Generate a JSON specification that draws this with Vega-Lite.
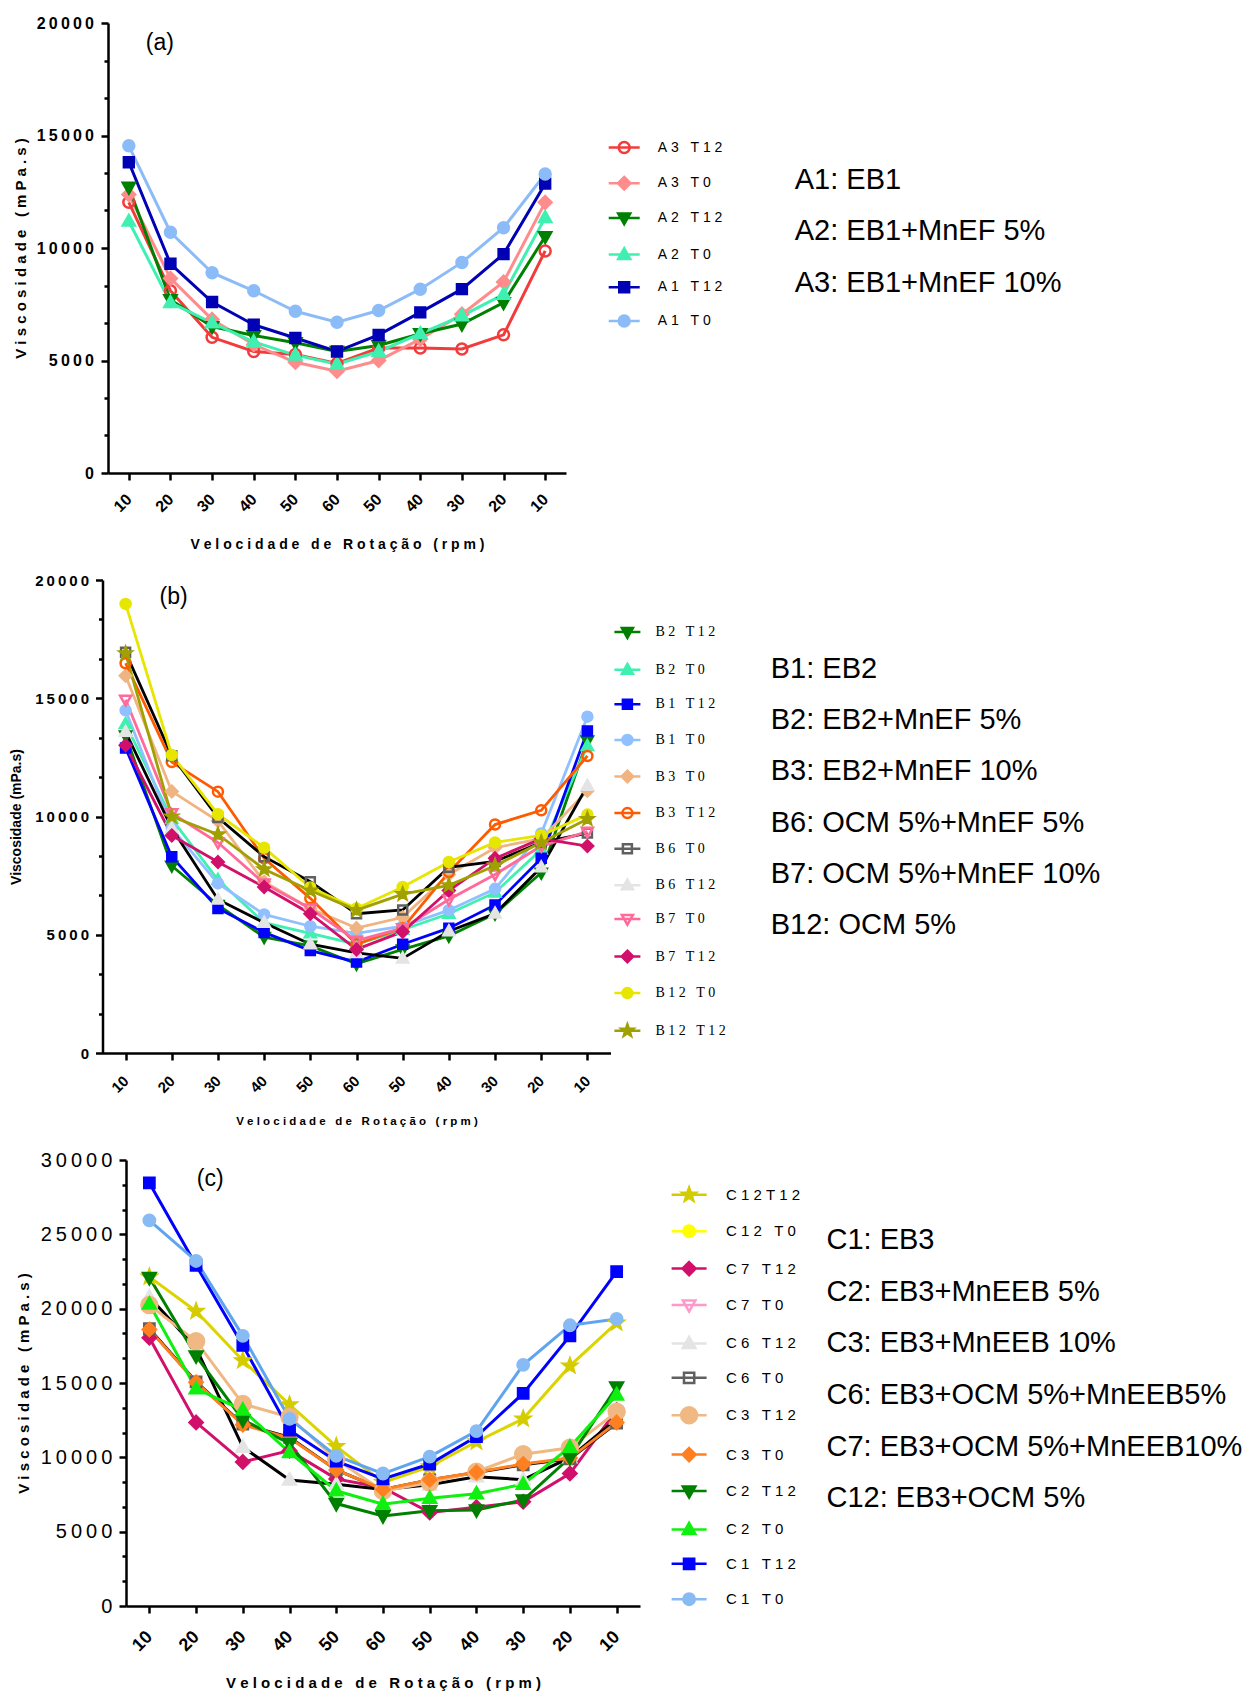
{
"$schema": "https://vega.github.io/schema/vega-lite/v6.json",
"background": "white",
"padding": {"left": 9, "top": 15, "right": 0, "bottom": 0},
"autosize": {"type": "pad"},
"config": {
  "view": {"stroke": null},
  "font": "Liberation Sans",
  "axis": {"grid": false, "domainColor": "#000", "domainWidth": 2.5, "tickColor": "#000", "tickWidth": 2.5, "labelColor": "#000", "titleColor": "#000", "labelFont": "Liberation Sans", "titleFont": "Liberation Sans", "labelOverlap": false}
},
"datasets": {
  "notesA": [{"g":"A1","note":"A1: EB1"},{"g":"A2","note":"A2: EB1+MnEF 5%"},{"g":"A3","note":"A3: EB1+MnEF 10%"}],
  "notesB": [{"g":"B1","note":"B1: EB2"},{"g":"B2","note":"B2: EB2+MnEF 5%"},{"g":"B3","note":"B3: EB2+MnEF 10%"},{"g":"B6","note":"B6: OCM 5%+MnEF 5%"},{"g":"B7","note":"B7: OCM 5%+MnEF 10%"},{"g":"B12","note":"B12: OCM 5%"}],
  "notesC": [{"g":"C1","note":"C1: EB3"},{"g":"C2","note":"C2: EB3+MnEEB 5%"},{"g":"C3","note":"C3: EB3+MnEEB 10%"},{"g":"C6","note":"C6: EB3+OCM 5%+MnEEB5%"},{"g":"C7","note":"C7: EB3+OCM 5%+MnEEB10%"},{"g":"C12","note":"C12: EB3+OCM 5%"}],
  "a": [
    {"s":"A3 T12","g":"A3","i":1,"v":12030},{"s":"A3 T12","g":"A3","i":2,"v":8100},{"s":"A3 T12","g":"A3","i":3,"v":6030},{"s":"A3 T12","g":"A3","i":4,"v":5400},{"s":"A3 T12","g":"A3","i":5,"v":5270},{"s":"A3 T12","g":"A3","i":6,"v":4870},{"s":"A3 T12","g":"A3","i":7,"v":5555},{"s":"A3 T12","g":"A3","i":8,"v":5560},{"s":"A3 T12","g":"A3","i":9,"v":5510},{"s":"A3 T12","g":"A3","i":10,"v":6140},{"s":"A3 T12","g":"A3","i":11,"v":9870},
    {"s":"A3 T0","g":"A3","i":1,"v":12380},{"s":"A3 T0","g":"A3","i":2,"v":8650},{"s":"A3 T0","g":"A3","i":3,"v":6825},{"s":"A3 T0","g":"A3","i":4,"v":5710},{"s":"A3 T0","g":"A3","i":5,"v":4920},{"s":"A3 T0","g":"A3","i":6,"v":4520},{"s":"A3 T0","g":"A3","i":7,"v":5000},{"s":"A3 T0","g":"A3","i":8,"v":5950},{"s":"A3 T0","g":"A3","i":9,"v":7060},{"s":"A3 T0","g":"A3","i":10,"v":8490},{"s":"A3 T0","g":"A3","i":11,"v":12030},
    {"s":"A2 T12","g":"A2","i":1,"v":12700},{"s":"A2 T12","g":"A2","i":2,"v":7700},{"s":"A2 T12","g":"A2","i":3,"v":6510},{"s":"A2 T12","g":"A2","i":4,"v":6110},{"s":"A2 T12","g":"A2","i":5,"v":5790},{"s":"A2 T12","g":"A2","i":6,"v":5400},{"s":"A2 T12","g":"A2","i":7,"v":5670},{"s":"A2 T12","g":"A2","i":8,"v":6190},{"s":"A2 T12","g":"A2","i":9,"v":6620},{"s":"A2 T12","g":"A2","i":10,"v":7570},{"s":"A2 T12","g":"A2","i":11,"v":10510},
    {"s":"A2 T0","g":"A2","i":1,"v":11190},{"s":"A2 T0","g":"A2","i":2,"v":7570},{"s":"A2 T0","g":"A2","i":3,"v":6670},{"s":"A2 T0","g":"A2","i":4,"v":5830},{"s":"A2 T0","g":"A2","i":5,"v":5240},{"s":"A2 T0","g":"A2","i":6,"v":4840},{"s":"A2 T0","g":"A2","i":7,"v":5400},{"s":"A2 T0","g":"A2","i":8,"v":6190},{"s":"A2 T0","g":"A2","i":9,"v":6980},{"s":"A2 T0","g":"A2","i":10,"v":7940},{"s":"A2 T0","g":"A2","i":11,"v":11350},
    {"s":"A1 T12","g":"A1","i":1,"v":13810},{"s":"A1 T12","g":"A1","i":2,"v":9300},{"s":"A1 T12","g":"A1","i":3,"v":7600},{"s":"A1 T12","g":"A1","i":4,"v":6590},{"s":"A1 T12","g":"A1","i":5,"v":6000},{"s":"A1 T12","g":"A1","i":6,"v":5400},{"s":"A1 T12","g":"A1","i":7,"v":6140},{"s":"A1 T12","g":"A1","i":8,"v":7140},{"s":"A1 T12","g":"A1","i":9,"v":8170},{"s":"A1 T12","g":"A1","i":10,"v":9730},{"s":"A1 T12","g":"A1","i":11,"v":12860},
    {"s":"A1 T0","g":"A1","i":1,"v":14540},{"s":"A1 T0","g":"A1","i":2,"v":10700},{"s":"A1 T0","g":"A1","i":3,"v":8900},{"s":"A1 T0","g":"A1","i":4,"v":8100},{"s":"A1 T0","g":"A1","i":5,"v":7190},{"s":"A1 T0","g":"A1","i":6,"v":6700},{"s":"A1 T0","g":"A1","i":7,"v":7220},{"s":"A1 T0","g":"A1","i":8,"v":8170},{"s":"A1 T0","g":"A1","i":9,"v":9360},{"s":"A1 T0","g":"A1","i":10,"v":10900},{"s":"A1 T0","g":"A1","i":11,"v":13290}
  ],
  "b": [
    {"s":"B2 T12","g":"B2","i":1,"v":13430},{"s":"B2 T12","g":"B2","i":2,"v":7920},{"s":"B2 T12","g":"B2","i":3,"v":6260},{"s":"B2 T12","g":"B2","i":4,"v":4900},{"s":"B2 T12","g":"B2","i":5,"v":4530},{"s":"B2 T12","g":"B2","i":6,"v":3770},{"s":"B2 T12","g":"B2","i":7,"v":4380},{"s":"B2 T12","g":"B2","i":8,"v":4950},{"s":"B2 T12","g":"B2","i":9,"v":5890},{"s":"B2 T12","g":"B2","i":10,"v":7620},{"s":"B2 T12","g":"B2","i":11,"v":13210},
    {"s":"B2 T0","g":"B2","i":1,"v":13920},{"s":"B2 T0","g":"B2","i":2,"v":9890},{"s":"B2 T0","g":"B2","i":3,"v":7320},{"s":"B2 T0","g":"B2","i":4,"v":5510},{"s":"B2 T0","g":"B2","i":5,"v":5060},{"s":"B2 T0","g":"B2","i":6,"v":4600},{"s":"B2 T0","g":"B2","i":7,"v":5210},{"s":"B2 T0","g":"B2","i":8,"v":5890},{"s":"B2 T0","g":"B2","i":9,"v":6790},{"s":"B2 T0","g":"B2","i":10,"v":8600},{"s":"B2 T0","g":"B2","i":11,"v":12980},
    {"s":"B1 T12","g":"B1","i":1,"v":12900},{"s":"B1 T12","g":"B1","i":2,"v":8300},{"s":"B1 T12","g":"B1","i":3,"v":6110},{"s":"B1 T12","g":"B1","i":4,"v":5100},{"s":"B1 T12","g":"B1","i":5,"v":4330},{"s":"B1 T12","g":"B1","i":6,"v":3850},{"s":"B1 T12","g":"B1","i":7,"v":4600},{"s":"B1 T12","g":"B1","i":8,"v":5280},{"s":"B1 T12","g":"B1","i":9,"v":6260},{"s":"B1 T12","g":"B1","i":10,"v":8230},{"s":"B1 T12","g":"B1","i":11,"v":13620},
    {"s":"B1 T0","g":"B1","i":1,"v":14490},{"s":"B1 T0","g":"B1","i":2,"v":9510},{"s":"B1 T0","g":"B1","i":3,"v":7170},{"s":"B1 T0","g":"B1","i":4,"v":5860},{"s":"B1 T0","g":"B1","i":5,"v":5360},{"s":"B1 T0","g":"B1","i":6,"v":5060},{"s":"B1 T0","g":"B1","i":7,"v":5360},{"s":"B1 T0","g":"B1","i":8,"v":6040},{"s":"B1 T0","g":"B1","i":9,"v":6940},{"s":"B1 T0","g":"B1","i":10,"v":9280},{"s":"B1 T0","g":"B1","i":11,"v":14220},
    {"s":"B3 T0","g":"B3","i":1,"v":15950},{"s":"B3 T0","g":"B3","i":2,"v":11060},{"s":"B3 T0","g":"B3","i":3,"v":9810},{"s":"B3 T0","g":"B3","i":4,"v":7245},{"s":"B3 T0","g":"B3","i":5,"v":6110},{"s":"B3 T0","g":"B3","i":6,"v":5280},{"s":"B3 T0","g":"B3","i":7,"v":5740},{"s":"B3 T0","g":"B3","i":8,"v":7550},{"s":"B3 T0","g":"B3","i":9,"v":8680},{"s":"B3 T0","g":"B3","i":10,"v":9060},{"s":"B3 T0","g":"B3","i":11,"v":11090},
    {"s":"B3 T12","g":"B3","i":1,"v":16480},{"s":"B3 T12","g":"B3","i":2,"v":12300},{"s":"B3 T12","g":"B3","i":3,"v":11050},{"s":"B3 T12","g":"B3","i":4,"v":8230},{"s":"B3 T12","g":"B3","i":5,"v":6540},{"s":"B3 T12","g":"B3","i":6,"v":4600},{"s":"B3 T12","g":"B3","i":7,"v":5280},{"s":"B3 T12","g":"B3","i":8,"v":7650},{"s":"B3 T12","g":"B3","i":9,"v":9660},{"s":"B3 T12","g":"B3","i":10,"v":10260},{"s":"B3 T12","g":"B3","i":11,"v":12560},
    {"s":"B6 T0","g":"B6","i":1,"v":16940},{"s":"B6 T0","g":"B6","i":2,"v":12570},{"s":"B6 T0","g":"B6","i":3,"v":9960},{"s":"B6 T0","g":"B6","i":4,"v":8300},{"s":"B6 T0","g":"B6","i":5,"v":7245},{"s":"B6 T0","g":"B6","i":6,"v":5890},{"s":"B6 T0","g":"B6","i":7,"v":6050},{"s":"B6 T0","g":"B6","i":8,"v":7850},{"s":"B6 T0","g":"B6","i":9,"v":8100},{"s":"B6 T0","g":"B6","i":10,"v":8900},{"s":"B6 T0","g":"B6","i":11,"v":9300},
    {"s":"B6 T12","g":"B6","i":1,"v":13580},{"s":"B6 T12","g":"B6","i":2,"v":9500},{"s":"B6 T12","g":"B6","i":3,"v":6490},{"s":"B6 T12","g":"B6","i":4,"v":5510},{"s":"B6 T12","g":"B6","i":5,"v":4600},{"s":"B6 T12","g":"B6","i":6,"v":4230},{"s":"B6 T12","g":"B6","i":7,"v":4000},{"s":"B6 T12","g":"B6","i":8,"v":5150},{"s":"B6 T12","g":"B6","i":9,"v":5900},{"s":"B6 T12","g":"B6","i":10,"v":7850},{"s":"B6 T12","g":"B6","i":11,"v":11300},
    {"s":"B7 T0","g":"B7","i":1,"v":14940},{"s":"B7 T0","g":"B7","i":2,"v":10140},{"s":"B7 T0","g":"B7","i":3,"v":8900},{"s":"B7 T0","g":"B7","i":4,"v":7170},{"s":"B7 T0","g":"B7","i":5,"v":6110},{"s":"B7 T0","g":"B7","i":6,"v":4750},{"s":"B7 T0","g":"B7","i":7,"v":5280},{"s":"B7 T0","g":"B7","i":8,"v":6490},{"s":"B7 T0","g":"B7","i":9,"v":7550},{"s":"B7 T0","g":"B7","i":10,"v":8750},{"s":"B7 T0","g":"B7","i":11,"v":9360},
    {"s":"B7 T12","g":"B7","i":1,"v":13010},{"s":"B7 T12","g":"B7","i":2,"v":9200},{"s":"B7 T12","g":"B7","i":3,"v":8075},{"s":"B7 T12","g":"B7","i":4,"v":7020},{"s":"B7 T12","g":"B7","i":5,"v":5890},{"s":"B7 T12","g":"B7","i":6,"v":4380},{"s":"B7 T12","g":"B7","i":7,"v":5130},{"s":"B7 T12","g":"B7","i":8,"v":6870},{"s":"B7 T12","g":"B7","i":9,"v":8230},{"s":"B7 T12","g":"B7","i":10,"v":9060},{"s":"B7 T12","g":"B7","i":11,"v":8750},
    {"s":"B12 T0","g":"B12","i":1,"v":18990},{"s":"B12 T0","g":"B12","i":2,"v":12600},{"s":"B12 T0","g":"B12","i":3,"v":10100},{"s":"B12 T0","g":"B12","i":4,"v":8680},{"s":"B12 T0","g":"B12","i":5,"v":7000},{"s":"B12 T0","g":"B12","i":6,"v":6110},{"s":"B12 T0","g":"B12","i":7,"v":7020},{"s":"B12 T0","g":"B12","i":8,"v":8075},{"s":"B12 T0","g":"B12","i":9,"v":8905},{"s":"B12 T0","g":"B12","i":10,"v":9200},{"s":"B12 T0","g":"B12","i":11,"v":10080},
    {"s":"B12 T12","g":"B12","i":1,"v":16900},{"s":"B12 T12","g":"B12","i":2,"v":10000},{"s":"B12 T12","g":"B12","i":3,"v":9240},{"s":"B12 T12","g":"B12","i":4,"v":7770},{"s":"B12 T12","g":"B12","i":5,"v":6870},{"s":"B12 T12","g":"B12","i":6,"v":6040},{"s":"B12 T12","g":"B12","i":7,"v":6720},{"s":"B12 T12","g":"B12","i":8,"v":7090},{"s":"B12 T12","g":"B12","i":9,"v":7920},{"s":"B12 T12","g":"B12","i":10,"v":8900},{"s":"B12 T12","g":"B12","i":11,"v":9890}
  ],
  "c": [
    {"s":"C12T12","g":"C12","i":1,"v":22140},{"s":"C12T12","g":"C12","i":2,"v":19830},{"s":"C12T12","g":"C12","i":3,"v":16510},{"s":"C12T12","g":"C12","i":4,"v":13540},{"s":"C12T12","g":"C12","i":5,"v":10740},{"s":"C12T12","g":"C12","i":6,"v":8310},{"s":"C12T12","g":"C12","i":7,"v":9380},{"s":"C12T12","g":"C12","i":8,"v":11050},{"s":"C12T12","g":"C12","i":9,"v":12590},{"s":"C12T12","g":"C12","i":10,"v":16150},{"s":"C12T12","g":"C12","i":11,"v":19050},
    {"s":"C7 T12","g":"C7","i":1,"v":18050},{"s":"C7 T12","g":"C7","i":2,"v":12350},{"s":"C7 T12","g":"C7","i":3,"v":9690},{"s":"C7 T12","g":"C7","i":4,"v":10450},{"s":"C7 T12","g":"C7","i":5,"v":8550},{"s":"C7 T12","g":"C7","i":6,"v":7960},{"s":"C7 T12","g":"C7","i":7,"v":6290},{"s":"C7 T12","g":"C7","i":8,"v":6650},{"s":"C7 T12","g":"C7","i":9,"v":7010},{"s":"C7 T12","g":"C7","i":10,"v":8910},{"s":"C7 T12","g":"C7","i":11,"v":13180},
    {"s":"C6 T12","g":"C6","i":1,"v":20780},{"s":"C6 T12","g":"C6","i":2,"v":17340},{"s":"C6 T12","g":"C6","i":3,"v":10690},{"s":"C6 T12","g":"C6","i":4,"v":8480},{"s":"C6 T12","g":"C6","i":5,"v":8190},{"s":"C6 T12","g":"C6","i":6,"v":7840},{"s":"C6 T12","g":"C6","i":7,"v":8150},{"s":"C6 T12","g":"C6","i":8,"v":8700},{"s":"C6 T12","g":"C6","i":9,"v":8500},{"s":"C6 T12","g":"C6","i":10,"v":9980},{"s":"C6 T12","g":"C6","i":11,"v":12590},
    {"s":"C6 T0","g":"C6","i":1,"v":18650},{"s":"C6 T0","g":"C6","i":2,"v":15080},{"s":"C6 T0","g":"C6","i":3,"v":12230},{"s":"C6 T0","g":"C6","i":4,"v":11350},{"s":"C6 T0","g":"C6","i":5,"v":9150},{"s":"C6 T0","g":"C6","i":6,"v":7840},{"s":"C6 T0","g":"C6","i":7,"v":8480},{"s":"C6 T0","g":"C6","i":8,"v":8980},{"s":"C6 T0","g":"C6","i":9,"v":9500},{"s":"C6 T0","g":"C6","i":10,"v":9900},{"s":"C6 T0","g":"C6","i":11,"v":12300},
    {"s":"C3 T12","g":"C3","i":1,"v":20240},{"s":"C3 T12","g":"C3","i":2,"v":17810},{"s":"C3 T12","g":"C3","i":3,"v":13590},{"s":"C3 T12","g":"C3","i":4,"v":12710},{"s":"C3 T12","g":"C3","i":5,"v":9860},{"s":"C3 T12","g":"C3","i":6,"v":7730},{"s":"C3 T12","g":"C3","i":7,"v":8310},{"s":"C3 T12","g":"C3","i":8,"v":9030},{"s":"C3 T12","g":"C3","i":9,"v":10210},{"s":"C3 T12","g":"C3","i":10,"v":10640},{"s":"C3 T12","g":"C3","i":11,"v":13060},
    {"s":"C3 T0","g":"C3","i":1,"v":18600},{"s":"C3 T0","g":"C3","i":2,"v":15050},{"s":"C3 T0","g":"C3","i":3,"v":12200},{"s":"C3 T0","g":"C3","i":4,"v":11300},{"s":"C3 T0","g":"C3","i":5,"v":9150},{"s":"C3 T0","g":"C3","i":6,"v":7840},{"s":"C3 T0","g":"C3","i":7,"v":8500},{"s":"C3 T0","g":"C3","i":8,"v":9000},{"s":"C3 T0","g":"C3","i":9,"v":9550},{"s":"C3 T0","g":"C3","i":10,"v":9950},{"s":"C3 T0","g":"C3","i":11,"v":12350},
    {"s":"C2 T12","g":"C2","i":1,"v":22090},{"s":"C2 T12","g":"C2","i":2,"v":16820},{"s":"C2 T12","g":"C2","i":3,"v":12520},{"s":"C2 T12","g":"C2","i":4,"v":10930},{"s":"C2 T12","g":"C2","i":5,"v":6890},{"s":"C2 T12","g":"C2","i":6,"v":6060},{"s":"C2 T12","g":"C2","i":7,"v":6410},{"s":"C2 T12","g":"C2","i":8,"v":6460},{"s":"C2 T12","g":"C2","i":9,"v":7130},{"s":"C2 T12","g":"C2","i":10,"v":9980},{"s":"C2 T12","g":"C2","i":11,"v":14730},
    {"s":"C2 T0","g":"C2","i":1,"v":20310},{"s":"C2 T0","g":"C2","i":2,"v":14610},{"s":"C2 T0","g":"C2","i":3,"v":13180},{"s":"C2 T0","g":"C2","i":4,"v":10330},{"s":"C2 T0","g":"C2","i":5,"v":7750},{"s":"C2 T0","g":"C2","i":6,"v":6850},{"s":"C2 T0","g":"C2","i":7,"v":7250},{"s":"C2 T0","g":"C2","i":8,"v":7550},{"s":"C2 T0","g":"C2","i":9,"v":8190},{"s":"C2 T0","g":"C2","i":10,"v":10690},{"s":"C2 T0","g":"C2","i":11,"v":14200},
    {"s":"C1 T12","g":"C1","i":1,"v":28460},{"s":"C1 T12","g":"C1","i":2,"v":22920},{"s":"C1 T12","g":"C1","i":3,"v":17530},{"s":"C1 T12","g":"C1","i":4,"v":11830},{"s":"C1 T12","g":"C1","i":5,"v":9740},{"s":"C1 T12","g":"C1","i":6,"v":8550},{"s":"C1 T12","g":"C1","i":7,"v":9550},{"s":"C1 T12","g":"C1","i":8,"v":11400},{"s":"C1 T12","g":"C1","i":9,"v":14300},{"s":"C1 T12","g":"C1","i":10,"v":18170},{"s":"C1 T12","g":"C1","i":11,"v":22490},
    {"s":"C1 T0","g":"C1","i":1,"v":25940},{"s":"C1 T0","g":"C1","i":2,"v":23210},{"s":"C1 T0","g":"C1","i":3,"v":18170},{"s":"C1 T0","g":"C1","i":4,"v":12590},{"s":"C1 T0","g":"C1","i":5,"v":10100},{"s":"C1 T0","g":"C1","i":6,"v":8910},{"s":"C1 T0","g":"C1","i":7,"v":10050},{"s":"C1 T0","g":"C1","i":8,"v":11760},{"s":"C1 T0","g":"C1","i":9,"v":16220},{"s":"C1 T0","g":"C1","i":10,"v":18880},{"s":"C1 T0","g":"C1","i":11,"v":19310}
  ]
},
"resolve": {
  "scale": {"color": "independent", "fill": "independent", "stroke": "independent", "shape": "independent", "opacity": "independent", "x": "independent", "y": "independent"},
  "legend": {"color": "independent", "fill": "independent", "stroke": "independent", "shape": "independent", "opacity": "independent"}
},
"bounds": "flush",
"spacing": 107,
"vconcat": [
  {
    "width": 440, "height": 450,
    "data": {"name": "a"},
    "resolve": {"scale": {"fill": "independent", "stroke": "independent", "shape": "independent"}},
    "layer": [
      {
        "transform": [{"lookup": "g", "from": {"data": {"name": "notesA"}, "key": "g", "fields": ["note"]}}],
        "mark": {"type": "line", "strokeWidth": 3},
        "encoding": {
          "x": {"field": "i", "type": "ordinal", "scale": {"type": "point", "padding": 0.5, "range": [-18, 440]},
                "axis": {"labelExpr": "[10,20,30,40,50,60,50,40,30,20,10][datum.value - 1]", "labelAngle": -45, "labelAlign": "right", "labelBaseline": "middle", "labelFontSize": 16, "labelFontWeight": "bold", "labelPadding": 16.5, "tickSize": 7, "labelOverlap": false,
                         "title": "V e l o c i d a d e \u00a0 d e \u00a0 R o t a ç ã o \u00a0 ( r p m )", "titleFontSize": 14, "titleFontWeight": "bold", "titlePadding": 23}},
          "y": {"field": "v", "type": "quantitative", "scale": {"domain": [0, 20000], "nice": false},
                "axis": {"offset": 18, "tickCount": 100, "values": [0,1666.6667,3333.3333,5000,6666.6667,8333.3333,10000,11666.6667,13333.3333,15000,16666.6667,18333.3333,20000],
                         "labelExpr": "datum.value % 5000 == 0 ? join(split(format(datum.value, 'd'), ''), '\u2009') : ''",
                         "tickSize": {"condition": {"test": "datum.value % 5000 == 0", "value": 7}, "value": 4},
                         "labelFontSize": 16, "labelFontWeight": "bold", "labelPadding": 7.5, "labelOverlap": false,
                         "title": "V i s c o s i d a d e \u00a0 ( m P a . s )", "titleFontSize": 15, "titleFontWeight": "bold", "titlePadding": 8}},
          "color": {"field": "s", "type": "nominal", "legend": null,
                    "scale": {"domain": ["A1 T0","A1 T12","A2 T0","A2 T12","A3 T0","A3 T12"], "range": ["#8cbcf8","#0000b4","#3ff0b0","#008000","#ff8c8c","#f23c3c"]}},
          "opacity": {"field": "note", "type": "ordinal",
                      "scale": {"domain": ["A1: EB1","A2: EB1+MnEF 5%","A3: EB1+MnEF 10%"], "range": [1, 1]},
                      "legend": {"orient": "none", "legendX": 639.7, "legendY": 142.3, "title": null, "padding": 0, "direction": "vertical", "symbolSize": 0, "symbolStrokeWidth": 0, "symbolOpacity": 0, "labelOffset": 0, "labelFont": "Liberation Sans", "labelFontSize": 29, "labelColor": "#000", "labelLimit": 2000, "rowPadding": 21.5}}
        }
      },
      {
        "mark": {"type": "point", "filled": true, "opacity": 1, "strokeWidth": 2.5, "size": 120},
        "encoding": {
          "x": {"field": "i", "type": "ordinal"},
          "y": {"field": "v", "type": "quantitative"},
          "fill": {"field": "s", "type": "nominal", "legend": null,
                   "scale": {"domain": ["A3 T12","A3 T0","A2 T12","A2 T0","A1 T12","A1 T0"], "range": ["transparent","#ff8c8c","#008000","#3ff0b0","#0000b4","#8cbcf8"]}},
          "stroke": {"field": "s", "type": "nominal", "legend": null,
                     "scale": {"domain": ["A3 T12","A3 T0","A2 T12","A2 T0","A1 T12","A1 T0"], "range": ["#f23c3c","#ff8c8c","#008000","#3ff0b0","#0000b4","#8cbcf8"]}},
          "shape": {"field": "s", "type": "nominal", "legend": null,
                    "scale": {"domain": ["A3 T12","A3 T0","A2 T12","A2 T0","A1 T12","A1 T0"], "range": ["M1,0A1,1,0,1,1,-1,0A1,1,0,1,1,1,0Z","M0,-1.15L1.15,0L0,1.15L-1.15,0Z","M0,1.15L1.1,-0.8H-1.1Z","M0,-1.15L1.1,0.8H-1.1Z","M-0.9,-0.9H0.9V0.9H-0.9Z","M1,0A1,1,0,1,1,-1,0A1,1,0,1,1,1,0Z"]}}
        }
      },
      {
        "mark": {"type": "point", "filled": true, "opacity": 0, "strokeWidth": 2.5, "size": 120},
        "encoding": {
          "x": {"field": "i", "type": "ordinal"},
          "y": {"field": "v", "type": "quantitative"},
          "fill": {"field": "s", "type": "nominal",
                   "scale": {"domain": ["A3 T12","A3 T0","A2 T12","A2 T0","A1 T12","A1 T0"], "range": ["transparent","#ff8c8c","#008000","#3ff0b0","#0000b4","#8cbcf8"]},
                   "legend": {"orient": "none", "legendX": 482.7, "legendY": 117.5, "title": null, "padding": 0, "direction": "vertical", "symbolSize": 120, "symbolStrokeWidth": 2.5, "symbolOpacity": 1, "symbolOffset": 8.5, "labelOffset": 26.6, "rowPadding": 12.7, "symbolFillColor": "transparent", "labelFont": "Liberation Sans", "labelFontSize": 14, "labelColor": "#000", "labelExpr": "join(split(datum.label, ''), '\u00a0')"}},
          "stroke": {"field": "s", "type": "nominal",
                     "scale": {"domain": ["A3 T12","A3 T0","A2 T12","A2 T0","A1 T12","A1 T0"], "range": ["#f23c3c","#ff8c8c","#008000","#3ff0b0","#0000b4","#8cbcf8"]},
                     "legend": {"orient": "none", "legendX": 482.7, "legendY": 117.5, "title": null, "padding": 0, "direction": "vertical", "symbolSize": 120, "symbolStrokeWidth": 2.5, "symbolOpacity": 1, "symbolOffset": 8.5, "labelOffset": 26.6, "rowPadding": 12.7, "symbolFillColor": "transparent", "labelFont": "Liberation Sans", "labelFontSize": 14, "labelColor": "#000", "labelExpr": "join(split(datum.label, ''), '\u00a0')"}},
          "shape": {"field": "s", "type": "nominal",
                    "scale": {"domain": ["A3 T12","A3 T0","A2 T12","A2 T0","A1 T12","A1 T0"], "range": ["M-2.83,0H2.83M1,0A1,1,0,1,1,-1,0A1,1,0,1,1,1,0Z","M-2.83,0H2.83M0,-1.15L1.15,0L0,1.15L-1.15,0Z","M-2.83,0H2.83M0,1.15L1.1,-0.8H-1.1Z","M-2.83,0H2.83M0,-1.15L1.1,0.8H-1.1Z","M-2.83,0H2.83M-0.9,-0.9H0.9V0.9H-0.9Z","M-2.83,0H2.83M1,0A1,1,0,1,1,-1,0A1,1,0,1,1,1,0Z"]},
                    "legend": {"orient": "none", "legendX": 482.7, "legendY": 117.5, "title": null, "padding": 0, "direction": "vertical", "symbolSize": 120, "symbolStrokeWidth": 2.5, "symbolOpacity": 1, "symbolOffset": 8.5, "labelOffset": 26.6, "rowPadding": 12.7, "symbolFillColor": "transparent", "labelFont": "Liberation Sans", "labelFontSize": 14, "labelColor": "#000", "labelExpr": "join(split(datum.label, ''), '\u00a0')"}}
        }
      },
      {
        "data": {"values": [{"t": "(a)"}]},
        "mark": {"type": "text", "align": "left", "baseline": "middle", "fontSize": 23, "dx": 17},
        "encoding": {"text": {"field": "t"}, "x": {"datum": 1, "type": "ordinal"}, "y": {"datum": 19090, "type": "quantitative"}}
      }
    ]
  },
  {
    "width": 484.5, "height": 473,
    "data": {"name": "b"},
    "resolve": {"scale": {"fill": "independent", "stroke": "independent", "shape": "independent"}},
    "layer": [
      {
        "transform": [{"lookup": "g", "from": {"data": {"name": "notesB"}, "key": "g", "fields": ["note"]}}],
        "mark": {"type": "line", "strokeWidth": 2.8},
        "encoding": {
          "x": {"field": "i", "type": "ordinal", "scale": {"type": "point", "padding": 0.5, "range": [-23.5, 484.5]},
                "axis": {"labelExpr": "[10,20,30,40,50,60,50,40,30,20,10][datum.value - 1]", "labelAngle": -45, "labelAlign": "right", "labelBaseline": "middle", "labelFontSize": 15, "labelFontWeight": "bold", "labelPadding": 18, "tickSize": 7, "labelOverlap": false,
                         "title": "V e l o c i d a d e \u00a0 d e \u00a0 R o t a ç ã o \u00a0 ( r p m )", "titleFontSize": 11.5, "titleFontWeight": "bold", "titlePadding": 20.5}},
          "y": {"field": "v", "type": "quantitative", "scale": {"domain": [0, 20000], "nice": false},
                "axis": {"offset": 23.5, "tickCount": 100, "values": [0,1666.6667,3333.3333,5000,6666.6667,8333.3333,10000,11666.6667,13333.3333,15000,16666.6667,18333.3333,20000],
                         "labelExpr": "datum.value % 5000 == 0 ? join(split(format(datum.value, 'd'), ''), '\u2009') : ''",
                         "tickSize": {"condition": {"test": "datum.value % 5000 == 0", "value": 7}, "value": 4},
                         "labelFontSize": 15, "labelFontWeight": "bold", "labelPadding": 7, "labelOverlap": false,
                         "title": "Viscosidade (mPa.s)", "titleFontSize": 14, "titleFontWeight": "bold", "titlePadding": 11.3}},
          "color": {"field": "s", "type": "nominal", "legend": null,
                    "scale": {"domain": ["B12 T12","B12 T0","B7 T12","B7 T0","B6 T12","B6 T0","B3 T12","B3 T0","B1 T0","B1 T12","B2 T0","B2 T12"], "range": ["#a0a000","#e6e600","#d0106a","#ff6a9a","#000000","#000000","#ff5a00","#f0b482","#90c0ff","#0000ff","#3ff0b0","#008000"]}},
          "opacity": {"field": "note", "type": "ordinal",
                      "scale": {"domain": ["B1: EB2","B2: EB2+MnEF 5%","B3: EB2+MnEF 10%","B6: OCM 5%+MnEF 5%","B7: OCM 5%+MnEF 10%","B12: OCM 5%"], "range": [1, 1]},
                      "legend": {"orient": "none", "legendX": 615.7, "legendY": 74.3, "title": null, "padding": 0, "direction": "vertical", "symbolSize": 0, "symbolStrokeWidth": 0, "symbolOpacity": 0, "labelOffset": 0, "labelFont": "Liberation Sans", "labelFontSize": 29, "labelColor": "#000", "labelLimit": 2000, "rowPadding": 21.3}}
        }
      },
      {
        "mark": {"type": "point", "filled": true, "opacity": 1, "strokeWidth": 2.5, "size": 100},
        "encoding": {
          "x": {"field": "i", "type": "ordinal"},
          "y": {"field": "v", "type": "quantitative"},
          "fill": {"field": "s", "type": "nominal", "legend": null,
                   "scale": {"domain": ["B2 T12","B2 T0","B1 T12","B1 T0","B3 T0","B3 T12","B6 T0","B6 T12","B7 T0","B7 T12","B12 T0","B12 T12"], "range": ["#008000","#3ff0b0","#0000ff","#90c0ff","#f0b482","transparent","transparent","#e4e4e4","transparent","#d0106a","#e6e600","#a0a000"]}},
          "stroke": {"field": "s", "type": "nominal", "legend": null,
                     "scale": {"domain": ["B2 T12","B2 T0","B1 T12","B1 T0","B3 T0","B3 T12","B6 T0","B6 T12","B7 T0","B7 T12","B12 T0","B12 T12"], "range": ["#008000","#3ff0b0","#0000ff","#90c0ff","#f0b482","#ff5a00","#606060","#e4e4e4","#ff6a9a","#d0106a","#e6e600","#a0a000"]}},
          "shape": {"field": "s", "type": "nominal", "legend": null,
                    "scale": {"domain": ["B2 T12","B2 T0","B1 T12","B1 T0","B3 T0","B3 T12","B6 T0","B6 T12","B7 T0","B7 T12","B12 T0","B12 T12"], "range": ["M0,1.15L1.1,-0.8H-1.1Z","M0,-1.15L1.1,0.8H-1.1Z","M-0.9,-0.9H0.9V0.9H-0.9Z","M1,0A1,1,0,1,1,-1,0A1,1,0,1,1,1,0Z","M0,-1.15L1.15,0L0,1.15L-1.15,0Z","M1,0A1,1,0,1,1,-1,0A1,1,0,1,1,1,0Z","M-0.9,-0.9H0.9V0.9H-0.9Z","M0,-1.15L1.1,0.8H-1.1Z","M0,1.15L1.1,-0.8H-1.1Z","M0,-1.15L1.15,0L0,1.15L-1.15,0Z","M1,0A1,1,0,1,1,-1,0A1,1,0,1,1,1,0Z","M0,-1.25L0.3,-0.42L1.19,-0.39L0.49,0.16L0.73,1.01L0,0.52L-0.73,1.01L-0.49,0.16L-1.19,-0.39L-0.3,-0.42Z"]}}
        }
      },
      {
        "mark": {"type": "point", "filled": true, "opacity": 0, "strokeWidth": 2.5, "size": 100},
        "encoding": {
          "x": {"field": "i", "type": "ordinal"},
          "y": {"field": "v", "type": "quantitative"},
          "fill": {"field": "s", "type": "nominal",
                   "scale": {"domain": ["B2 T12","B2 T0","B1 T12","B1 T0","B3 T0","B3 T12","B6 T0","B6 T12","B7 T0","B7 T12","B12 T0","B12 T12"], "range": ["#008000","#3ff0b0","#0000ff","#90c0ff","#f0b482","transparent","transparent","#e4e4e4","transparent","#d0106a","#e6e600","#a0a000"]},
                   "legend": {"orient": "none", "legendX": 488.4, "legendY": 45.1, "title": null, "padding": 0, "direction": "vertical", "symbolSize": 100, "symbolStrokeWidth": 2.5, "symbolOpacity": 1, "symbolOffset": 6, "labelOffset": 21, "rowPadding": 15.6, "symbolFillColor": "transparent", "labelFont": "Liberation Serif", "labelFontSize": 14, "labelColor": "#000", "labelExpr": "join(split(datum.label, ''), '\u00a0')"}},
          "stroke": {"field": "s", "type": "nominal",
                     "scale": {"domain": ["B2 T12","B2 T0","B1 T12","B1 T0","B3 T0","B3 T12","B6 T0","B6 T12","B7 T0","B7 T12","B12 T0","B12 T12"], "range": ["#008000","#3ff0b0","#0000ff","#90c0ff","#f0b482","#ff5a00","#606060","#e4e4e4","#ff6a9a","#d0106a","#e6e600","#a0a000"]},
                     "legend": {"orient": "none", "legendX": 488.4, "legendY": 45.1, "title": null, "padding": 0, "direction": "vertical", "symbolSize": 100, "symbolStrokeWidth": 2.5, "symbolOpacity": 1, "symbolOffset": 6, "labelOffset": 21, "rowPadding": 15.6, "symbolFillColor": "transparent", "labelFont": "Liberation Serif", "labelFontSize": 14, "labelColor": "#000", "labelExpr": "join(split(datum.label, ''), '\u00a0')"}},
          "shape": {"field": "s", "type": "nominal",
                    "scale": {"domain": ["B2 T12","B2 T0","B1 T12","B1 T0","B3 T0","B3 T12","B6 T0","B6 T12","B7 T0","B7 T12","B12 T0","B12 T12"], "range": ["M-2.6,0H2.6M0,1.15L1.1,-0.8H-1.1Z","M-2.6,0H2.6M0,-1.15L1.1,0.8H-1.1Z","M-2.6,0H2.6M-0.9,-0.9H0.9V0.9H-0.9Z","M-2.6,0H2.6M1,0A1,1,0,1,1,-1,0A1,1,0,1,1,1,0Z","M-2.6,0H2.6M0,-1.15L1.15,0L0,1.15L-1.15,0Z","M-2.6,0H2.6M1,0A1,1,0,1,1,-1,0A1,1,0,1,1,1,0Z","M-2.6,0H2.6M-0.9,-0.9H0.9V0.9H-0.9Z","M-2.6,0H2.6M0,-1.15L1.1,0.8H-1.1Z","M-2.6,0H2.6M0,1.15L1.1,-0.8H-1.1Z","M-2.6,0H2.6M0,-1.15L1.15,0L0,1.15L-1.15,0Z","M-2.6,0H2.6M1,0A1,1,0,1,1,-1,0A1,1,0,1,1,1,0Z","M-2.6,0H2.6M0,-1.25L0.3,-0.42L1.19,-0.39L0.49,0.16L0.73,1.01L0,0.52L-0.73,1.01L-0.49,0.16L-1.19,-0.39L-0.3,-0.42Z"]},
                    "legend": {"orient": "none", "legendX": 488.4, "legendY": 45.1, "title": null, "padding": 0, "direction": "vertical", "symbolSize": 100, "symbolStrokeWidth": 2.5, "symbolOpacity": 1, "symbolOffset": 6, "labelOffset": 21, "rowPadding": 15.6, "symbolFillColor": "transparent", "labelFont": "Liberation Serif", "labelFontSize": 14, "labelColor": "#000", "labelExpr": "join(split(datum.label, ''), '\u00a0')"}}
        }
      },
      {
        "data": {"values": [{"t": "(b)"}]},
        "mark": {"type": "text", "align": "left", "baseline": "middle", "fontSize": 23, "dx": 34},
        "encoding": {"text": {"field": "t"}, "x": {"datum": 1, "type": "ordinal"}, "y": {"datum": 19300, "type": "quantitative"}}
      }
    ]
  },
  {
    "width": 514, "height": 446,
    "data": {"name": "c"},
    "resolve": {"scale": {"fill": "independent", "stroke": "independent", "shape": "independent"}},
    "layer": [
      {
        "transform": [{"lookup": "g", "from": {"data": {"name": "notesC"}, "key": "g", "fields": ["note"]}}],
        "mark": {"type": "line", "strokeWidth": 3},
        "encoding": {
          "x": {"field": "i", "type": "ordinal", "scale": {"type": "point", "padding": 0.5, "range": [0, 514]},
                "axis": {"labelExpr": "[10,20,30,40,50,60,50,40,30,20,10][datum.value - 1]", "labelAngle": -45, "labelAlign": "right", "labelBaseline": "middle", "labelFontSize": 18, "labelFontWeight": "bold", "labelPadding": 21, "tickSize": 7, "labelOverlap": false,
                         "title": "V e l o c i d a d e \u00a0 d e \u00a0 R o t a ç ã o \u00a0 ( r p m )", "titleFontSize": 15, "titleFontWeight": "bold", "titlePadding": 20.7}},
          "y": {"field": "v", "type": "quantitative", "scale": {"domain": [0, 30000], "nice": false},
                "axis": {"tickCount": 100, "values": [0,1666.6667,3333.3333,5000,6666.6667,8333.3333,10000,11666.6667,13333.3333,15000,16666.6667,18333.3333,20000,21666.6667,23333.3333,25000,26666.6667,28333.3333,30000],
                         "labelExpr": "datum.value % 5000 == 0 ? join(split(format(datum.value, 'd'), ''), '\u2009') : ''",
                         "tickSize": {"condition": {"test": "datum.value % 5000 == 0", "value": 7}, "value": 4},
                         "labelFontSize": 20, "labelFontWeight": "normal", "labelPadding": 7.2, "labelOverlap": false,
                         "title": "V i s c o s i d a d e \u00a0 ( m P a . s )", "titleFontSize": 15, "titleFontWeight": "bold", "titlePadding": 8.8}},
          "color": {"field": "s", "type": "nominal", "legend": null,
                    "scale": {"domain": ["C1 T0","C1 T12","C2 T0","C2 T12","C3 T0","C3 T12","C6 T0","C6 T12","C7 T0","C7 T12","C12 T0","C12T12"], "range": ["#5ea4f0","#0000ff","#10f010","#008000","#ff8020","#f0b882","#000000","#000000","#ff99cc","#d0106a","#ffff00","#dcd400"]}},
          "opacity": {"field": "note", "type": "ordinal",
                      "scale": {"domain": ["C1: EB3","C2: EB3+MnEEB 5%","C3: EB3+MnEEB 10%","C6: EB3+OCM 5%+MnEEB5%","C7: EB3+OCM 5%+MnEEB10%","C12: EB3+OCM 5%"], "range": [1, 1]},
                      "legend": {"orient": "none", "legendX": 671.5, "legendY": 65.3, "title": null, "padding": 0, "direction": "vertical", "symbolSize": 0, "symbolStrokeWidth": 0, "symbolOpacity": 0, "labelOffset": 0, "labelFont": "Liberation Sans", "labelFontSize": 29, "labelColor": "#000", "labelLimit": 2000, "rowPadding": 21.7}}
        }
      },
      {
        "mark": {"type": "point", "filled": true, "opacity": 1, "strokeWidth": 2.5, "size": 130},
        "encoding": {
          "x": {"field": "i", "type": "ordinal"},
          "y": {"field": "v", "type": "quantitative"},
          "fill": {"field": "s", "type": "nominal", "legend": null,
                   "scale": {"domain": ["C12T12","C12 T0","C7 T12","C7 T0","C6 T12","C6 T0","C3 T12","C3 T0","C2 T12","C2 T0","C1 T12","C1 T0"], "range": ["#d4cc00","#ffff00","#d0106a","transparent","#e4e4e4","transparent","#f0b882","#ff8020","#008000","#10f010","#0000ff","#88bbf4"]}},
          "stroke": {"field": "s", "type": "nominal", "legend": null,
                     "scale": {"domain": ["C12T12","C12 T0","C7 T12","C7 T0","C6 T12","C6 T0","C3 T12","C3 T0","C2 T12","C2 T0","C1 T12","C1 T0"], "range": ["#d4cc00","#ffff00","#d0106a","#ff99cc","#e4e4e4","#606060","#f0b882","#ff8020","#008000","#10f010","#0000ff","#88bbf4"]}},
          "shape": {"field": "s", "type": "nominal", "legend": null,
                    "scale": {"domain": ["C12T12","C12 T0","C7 T12","C7 T0","C6 T12","C6 T0","C3 T12","C3 T0","C2 T12","C2 T0","C1 T12","C1 T0"], "range": ["M0,-1.25L0.3,-0.42L1.19,-0.39L0.49,0.16L0.73,1.01L0,0.52L-0.73,1.01L-0.49,0.16L-1.19,-0.39L-0.3,-0.42Z","M1,0A1,1,0,1,1,-1,0A1,1,0,1,1,1,0Z","M0,-1.15L1.15,0L0,1.15L-1.15,0Z","M0,1.15L1.1,-0.8H-1.1Z","M0,-1.15L1.1,0.8H-1.1Z","M-0.9,-0.9H0.9V0.9H-0.9Z","M1.4,0A1.4,1.4,0,1,1,-1.4,0A1.4,1.4,0,1,1,1.4,0Z","M0,-1.15L1.15,0L0,1.15L-1.15,0Z","M0,1.15L1.1,-0.8H-1.1Z","M0,-1.15L1.1,0.8H-1.1Z","M-0.9,-0.9H0.9V0.9H-0.9Z","M1,0A1,1,0,1,1,-1,0A1,1,0,1,1,1,0Z"]}}
        }
      },
      {
        "mark": {"type": "point", "filled": true, "opacity": 0, "strokeWidth": 2.5, "size": 130},
        "encoding": {
          "x": {"field": "i", "type": "ordinal"},
          "y": {"field": "v", "type": "quantitative"},
          "fill": {"field": "s", "type": "nominal",
                   "scale": {"domain": ["C12T12","C12 T0","C7 T12","C7 T0","C6 T12","C6 T0","C3 T12","C3 T0","C2 T12","C2 T0","C1 T12","C1 T0"], "range": ["#d4cc00","#ffff00","#d0106a","transparent","#e4e4e4","transparent","#f0b882","#ff8020","#008000","#10f010","#0000ff","#88bbf4"]},
                   "legend": {"orient": "none", "legendX": 545.6, "legendY": 27.3, "title": null, "padding": 0, "direction": "vertical", "symbolSize": 130, "symbolStrokeWidth": 2.5, "symbolOpacity": 1, "symbolOffset": 10, "labelOffset": 29.3, "rowPadding": 13.4, "symbolFillColor": "transparent", "labelFont": "Liberation Sans", "labelFontSize": 15, "labelColor": "#000", "labelExpr": "join(split(datum.label, ''), '\u00a0')"}},
          "stroke": {"field": "s", "type": "nominal",
                     "scale": {"domain": ["C12T12","C12 T0","C7 T12","C7 T0","C6 T12","C6 T0","C3 T12","C3 T0","C2 T12","C2 T0","C1 T12","C1 T0"], "range": ["#d4cc00","#ffff00","#d0106a","#ff99cc","#e4e4e4","#606060","#f0b882","#ff8020","#008000","#10f010","#0000ff","#88bbf4"]},
                     "legend": {"orient": "none", "legendX": 545.6, "legendY": 27.3, "title": null, "padding": 0, "direction": "vertical", "symbolSize": 130, "symbolStrokeWidth": 2.5, "symbolOpacity": 1, "symbolOffset": 10, "labelOffset": 29.3, "rowPadding": 13.4, "symbolFillColor": "transparent", "labelFont": "Liberation Sans", "labelFontSize": 15, "labelColor": "#000", "labelExpr": "join(split(datum.label, ''), '\u00a0')"}},
          "shape": {"field": "s", "type": "nominal",
                    "scale": {"domain": ["C12T12","C12 T0","C7 T12","C7 T0","C6 T12","C6 T0","C3 T12","C3 T0","C2 T12","C2 T0","C1 T12","C1 T0"], "range": ["M-3.07,0H3.07M0,-1.25L0.3,-0.42L1.19,-0.39L0.49,0.16L0.73,1.01L0,0.52L-0.73,1.01L-0.49,0.16L-1.19,-0.39L-0.3,-0.42Z","M-3.07,0H3.07M1,0A1,1,0,1,1,-1,0A1,1,0,1,1,1,0Z","M-3.07,0H3.07M0,-1.15L1.15,0L0,1.15L-1.15,0Z","M-3.07,0H3.07M0,1.15L1.1,-0.8H-1.1Z","M-3.07,0H3.07M0,-1.15L1.1,0.8H-1.1Z","M-3.07,0H3.07M-0.9,-0.9H0.9V0.9H-0.9Z","M-3.07,0H3.07M1.4,0A1.4,1.4,0,1,1,-1.4,0A1.4,1.4,0,1,1,1.4,0Z","M-3.07,0H3.07M0,-1.15L1.15,0L0,1.15L-1.15,0Z","M-3.07,0H3.07M0,1.15L1.1,-0.8H-1.1Z","M-3.07,0H3.07M0,-1.15L1.1,0.8H-1.1Z","M-3.07,0H3.07M-0.9,-0.9H0.9V0.9H-0.9Z","M-3.07,0H3.07M1,0A1,1,0,1,1,-1,0A1,1,0,1,1,1,0Z"]},
                    "legend": {"orient": "none", "legendX": 545.6, "legendY": 27.3, "title": null, "padding": 0, "direction": "vertical", "symbolSize": 130, "symbolStrokeWidth": 2.5, "symbolOpacity": 1, "symbolOffset": 10, "labelOffset": 29.3, "rowPadding": 13.4, "symbolFillColor": "transparent", "labelFont": "Liberation Sans", "labelFontSize": 15, "labelColor": "#000", "labelExpr": "join(split(datum.label, ''), '\u00a0')"}}
        }
      },
      {
        "data": {"values": [{"t": "(c)"}]},
        "mark": {"type": "text", "align": "left", "baseline": "middle", "fontSize": 23, "dx": 47.5},
        "encoding": {"text": {"field": "t"}, "x": {"datum": 1, "type": "ordinal"}, "y": {"datum": 28690, "type": "quantitative"}}
      }
    ]
  }
]
}
